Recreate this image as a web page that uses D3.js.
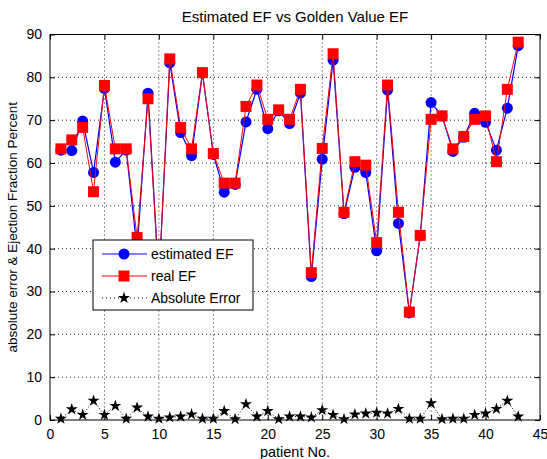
<!DOCTYPE html>
<html lang="en">
<head>
    <meta charset="utf-8">
    <title>ef chart</title>
    <script type="text/javascript" src="https://cdnjs.cloudflare.com/ajax/libs/d3/7.8.5/d3.min.js"></script>
    <style>
      body { margin: 0; background: #fff; }
      text { font-family: "Liberation Sans", Arial, sans-serif; fill: #000; }
    </style>
</head>
<body>
    <script type="text/javascript">
      //chart data
      var patients = d3.range(1, 44);
      var estimatedEF = [63, 62.9, 69.8, 57.8, 77.4, 60.2, 63, 39.7, 76.3, 32.5,
                         83.4, 67.1, 61.7, 81, 62, 53.2, 55, 69.6, 77.2, 68,
                         72.2, 69.2, 76.3, 33.5, 60.9, 84, 48.2, 59, 57.8, 39.5,
                         77, 45.9, 25, 43, 74.1, 71, 62.7, 66, 71.6, 69.5,
                         63, 72.8, 87.4];
      var realEF = [63.3, 65.4, 68.3, 53.3, 78.1, 63.3, 63.3, 42.6, 75, 32.2,
                    84.3, 68.3, 63.3, 81.1, 62.2, 55.3, 55.3, 73.2, 78.2, 70.2,
                    72.4, 70.2, 77.2, 34.4, 63.4, 85.5, 48.5, 60.3, 59.5, 41.4,
                    78.2, 48.5, 25.2, 43.1, 70.2, 71, 63.3, 66.2, 70.2, 71,
                    60.3, 77.2, 88.2];
      var absError = [0.3, 2.5, 1.2, 4.5, 1.2, 3.3, 0.3, 2.9, 0.8, 0.3,
                      0.6, 0.8, 1.3, 0.3, 0.3, 2.1, 0.2, 3.7, 0.8, 2.1,
                      0.2, 0.8, 0.8, 0.6, 2.3, 1.2, 0.2, 1.3, 1.5, 1.7,
                      1.5, 2.6, 0.3, 0.3, 3.9, 0.2, 0.3, 0.3, 1.2, 1.5,
                      2.6, 4.5, 0.8];
      var xTicks = d3.range(0, 50, 5);
      var yTicks = d3.range(0, 100, 10);
      var legendLabels = ["estimated EF", "real EF", "Absolute Error"];

      //dimensions
      var width = 547, height = 459;
      var margin = {top: 34.5, right: 7, bottom: 39, left: 50};
      var plotW = width - margin.left - margin.right,
          plotH = height - margin.top - margin.bottom;

      var xScale = d3.scaleLinear().domain([0, 45]).range([0, plotW]);
      var yScale = d3.scaleLinear().domain([0, 90]).range([plotH, 0]);

      var svg = d3.select("body")
                  .append("svg")
                  .attr("width", width)
                  .attr("height", height);

      var g = svg.append("g")
                 .attr("transform", "translate(" + margin.left + "," + margin.top + ")");

      //dotted grid
      g.append("g").selectAll("line").data(xTicks.slice(1, -1)).enter()
       .append("line")
       .attr("x1", function(d) { return xScale(d); })
       .attr("x2", function(d) { return xScale(d); })
       .attr("y1", 0).attr("y2", plotH)
       .attr("stroke", "#222").attr("stroke-width", 1)
       .attr("stroke-dasharray", "1,3");
      g.append("g").selectAll("line").data(yTicks.slice(1, -1)).enter()
       .append("line")
       .attr("y1", function(d) { return yScale(d); })
       .attr("y2", function(d) { return yScale(d); })
       .attr("x1", 0).attr("x2", plotW)
       .attr("stroke", "#222").attr("stroke-width", 1)
       .attr("stroke-dasharray", "1,3");

      //axes, ticks inward
      var xAxis = d3.axisBottom(xScale).tickValues(xTicks).tickSize(-5).tickPadding(9);
      var yAxis = d3.axisLeft(yScale).tickValues(yTicks).tickSize(-5).tickPadding(8);

      g.append("g")
       .attr("transform", "translate(0," + plotH + ")")
       .call(xAxis)
       .call(function(s) { s.select(".domain").remove(); });
      g.append("g")
       .call(yAxis)
       .call(function(s) { s.select(".domain").remove(); });
      g.append("g")
       .call(d3.axisTop(xScale).tickValues(xTicks).tickSize(-5).tickFormat(""))
       .call(function(s) { s.select(".domain").remove(); });
      g.append("g")
       .attr("transform", "translate(" + plotW + ",0)")
       .call(d3.axisRight(yScale).tickValues(yTicks).tickSize(-5).tickFormat(""))
       .call(function(s) { s.select(".domain").remove(); });

      g.selectAll(".tick text").style("font-size", "14px")
       .style("font-family", "'Liberation Sans Narrow', 'Liberation Sans', Arial, sans-serif");

      //frame
      g.append("rect")
       .attr("x", 0).attr("y", 0)
       .attr("width", plotW).attr("height", plotH)
       .attr("fill", "none").attr("stroke", "#000").attr("stroke-width", 1);

      //lines
      var lineOf = function(values) {
        return d3.line()
                 .x(function(d, i) { return xScale(patients[i]); })
                 .y(function(d) { return yScale(d); })(values);
      };

      //absolute error: dotted line with stars
      g.append("path")
       .attr("d", lineOf(absError))
       .attr("fill", "none").attr("stroke", "#000")
       .attr("stroke-width", 1).attr("stroke-dasharray", "1,2");
      var star = d3.symbol().type(d3.symbolStar).size(45);
      g.append("g").selectAll("path").data(absError).enter()
       .append("path")
       .attr("d", star)
       .attr("transform", function(d, i) {
          return "translate(" + xScale(patients[i]) + "," + yScale(d) + ")";
       })
       .attr("fill", "#000");

      //estimated EF
      g.append("path")
       .attr("d", lineOf(estimatedEF))
       .attr("fill", "none").attr("stroke", "#0000ff").attr("stroke-width", 1.2);
      g.append("g").selectAll("circle").data(estimatedEF).enter()
       .append("circle")
       .attr("cx", function(d, i) { return xScale(patients[i]); })
       .attr("cy", function(d) { return yScale(d); })
       .attr("r", 5.5)
       .attr("fill", "#0000ff");

      //real EF
      g.append("path")
       .attr("d", lineOf(realEF))
       .attr("fill", "none").attr("stroke", "#ff0000").attr("stroke-width", 1);
      g.append("g").selectAll("rect").data(realEF).enter()
       .append("rect")
       .attr("x", function(d, i) { return xScale(patients[i]) - 5.5; })
       .attr("y", function(d) { return yScale(d) - 5.5; })
       .attr("width", 11).attr("height", 11)
       .attr("fill", "#ff0000");

      //legend
      var lg = svg.append("g").attr("transform", "translate(93,240)");
      lg.append("rect")
        .attr("width", 160).attr("height", 70)
        .attr("fill", "#fff").attr("stroke", "#000").attr("stroke-width", 1);
      var rowY = [14, 36, 58];
      legendLabels.forEach(function(label, i) {
        var row = lg.append("g").attr("transform", "translate(0," + rowY[i] + ")");
        var line = row.append("line")
                      .attr("x1", 9).attr("x2", 54).attr("y1", 0).attr("y2", 0)
                      .attr("stroke", ["#0000ff", "#ff0000", "#000"][i]);
        if (i == 0) {
          row.append("circle").attr("cx", 31).attr("cy", 0).attr("r", 5.5).attr("fill", "#0000ff");
        } else if (i == 1) {
          row.append("rect").attr("x", 25.5).attr("y", -5.5).attr("width", 11).attr("height", 11)
             .attr("fill", "#ff0000");
        } else {
          line.attr("stroke-dasharray", "1,3");
          row.append("path").attr("d", star).attr("transform", "translate(31,0)").attr("fill", "#000");
        }
        row.append("text")
           .attr("x", 58).attr("y", 5)
           .style("font-size", "14px")
           .text(label);
      });

      //title and axis labels
      svg.append("text")
         .attr("x", margin.left + plotW / 2).attr("y", 22)
         .attr("text-anchor", "middle")
         .style("font-size", "15px")
         .text("Estimated EF vs Golden Value EF");
      svg.append("text")
         .attr("x", margin.left + plotW / 2).attr("y", 457)
         .attr("text-anchor", "middle")
         .style("font-size", "14.5px")
         .text("patient No.");
      svg.append("text")
         .attr("transform", "translate(17," + (margin.top + plotH / 2) + ") rotate(-90)")
         .attr("text-anchor", "middle")
         .style("font-size", "13.5px")
         .text("absolute error & Ejection Fraction Percent");
    </script>
</body>
</html>
